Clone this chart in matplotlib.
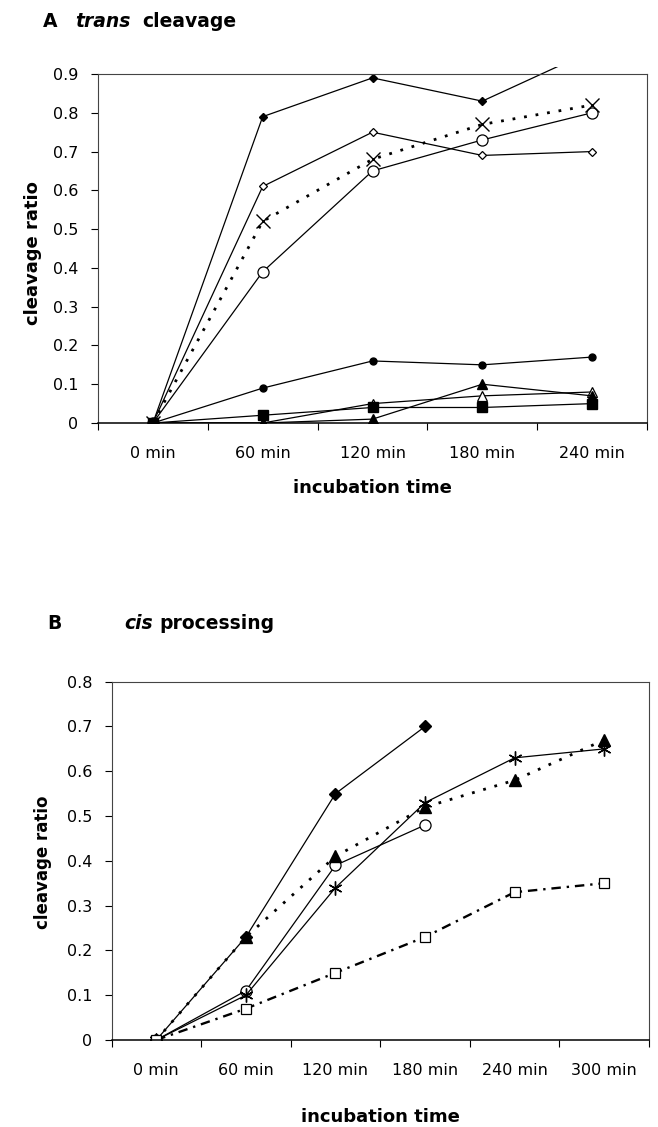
import numpy as np
import matplotlib
matplotlib.use("Agg")
import matplotlib.pyplot as plt
from matplotlib.transforms import Bbox, TransformedBbox

plt.rcParams['font.family'] = ['DejaVu Sans']

# A: trans cleavage
times_a = ['0 min', '60 min', '120 min', '180 min', '240 min']
a_filled_diamond = [0, 0.79, 0.89, 0.83, 0.96]
a_open_diamond = [0, 0.61, 0.75, 0.69, 0.70]
a_cross = [0, 0.52, 0.68, 0.77, 0.82]
a_open_circle = [0, 0.39, 0.65, 0.73, 0.80]
a_filled_circle = [0, 0.09, 0.16, 0.15, 0.17]
a_open_triangle = [0, 0, 0.05, 0.07, 0.08]
a_filled_triangle = [0, 0, 0.01, 0.10, 0.07]
a_filled_square = [0, 0.02, 0.04, 0.04, 0.05]

# B: cis processing
times_b = ['0 min', '60 min', '120 min', '180 min', '240 min', '300 min']
b_filled_diamond = [0, 0.23, 0.55, 0.70]
b_asterisk = [0, 0.10, 0.34, 0.53, 0.63, 0.65]
b_filled_triangle = [0, 0.23, 0.41, 0.52, 0.58, 0.67]
b_open_circle = [0, 0.11, 0.39, 0.48]
b_open_square = [0, 0.07, 0.15, 0.23, 0.33, 0.35]

W, H = 658, 1127
fig = plt.figure(figsize=(W / 100, H / 100), dpi=100)


def px_axes(l, t, r, b):
    return fig.add_axes([l / W, 1 - b / H, (r - l) / W, (b - t) / H])


def style_axes(ax, cats, ymax):
    n = len(cats)
    ax.set_xlim(-0.5, n - 0.5)
    ax.set_ylim(0, ymax)
    ax.set_yticks(np.arange(0, ymax + 0.001, 0.1))
    ax.set_yticklabels(['0'] + ['%.1f' % v for v in np.arange(0.1, ymax + 0.001, 0.1)])
    ax.set_xticks(np.arange(-0.5, n, 1.0))
    ax.set_xticklabels([])
    ax.set_xticks(np.arange(n), minor=True)
    ax.set_xticklabels(cats, minor=True)
    ax.tick_params(axis='x', which='major', direction='out', length=5, width=0.8)
    ax.tick_params(axis='x', which='minor', length=0, pad=16.5, labelsize=11.5)
    ax.tick_params(axis='y', direction='out', length=5, width=0.8, pad=9, labelsize=11.5)
    for s in ax.spines.values():
        s.set_color('#444444')
        s.set_linewidth(0.8)
    ax.spines['bottom'].set_color('black')
    ax.spines['bottom'].set_linewidth(1.1)


solid = dict(color='black', lw=0.9)
dotted = dict(color='black', lw=2.0, linestyle=(0, (1, 3.2)))

# ---- panel A ----
ax1 = px_axes(98, 74, 647, 423)
style_axes(ax1, times_a, 0.9)
xa = np.arange(len(times_a))

l1, = ax1.plot(xa, a_filled_diamond, marker='D', ms=4, mfc='black', mec='black', **solid)
l1.set_clip_box(TransformedBbox(Bbox([[0, 0], [1, 1.02]]), ax1.transAxes))
ax1.plot(xa, a_open_diamond, marker='D', ms=4, mfc='white', mec='black', mew=0.9, **solid)
ax1.plot(xa, a_open_circle, marker='o', ms=8, mfc='white', mec='black', mew=0.9, **solid)
ax1.plot(xa, a_cross, marker='x', ms=10, mec='black', mew=1.0, **dotted)
ax1.plot(xa, a_filled_circle, marker='o', ms=5, mfc='black', mec='black', **solid)
ax1.plot(xa, a_open_triangle, marker='^', ms=7, mfc='white', mec='black', mew=0.9, **solid)
ax1.plot(xa, a_filled_triangle, marker='^', ms=7, mfc='black', mec='black', **solid)
ax1.plot(xa, a_filled_square, marker='s', ms=7, mfc='black', mec='black', **solid)

fig.text(43 / W, 1 - 27 / H, 'A', fontsize=13.5, fontweight='bold', va='baseline')
fig.text(75 / W, 1 - 27 / H, 'trans', fontsize=13.5, fontweight='bold', style='italic', va='baseline')
fig.text(142 / W, 1 - 27 / H, 'cleavage', fontsize=13.5, fontweight='bold', va='baseline')
fig.text(33 / W, 1 - 253 / H, 'cleavage ratio', fontsize=13, fontweight='bold',
         rotation=90, ha='center', va='center')
fig.text(372 / W, 1 - 488 / H, 'incubation time', fontsize=13, fontweight='bold',
         ha='center', va='center')

# ---- panel B ----
ax2 = px_axes(111.5, 681.7, 649, 1040)
style_axes(ax2, times_b, 0.8)
xb = np.arange(len(times_b))

ax2.plot(xb[:len(b_filled_diamond)], b_filled_diamond, marker='D', ms=6, mfc='black', mec='black', **solid)
ax2.plot(xb[:len(b_open_circle)], b_open_circle, marker='o', ms=8, mfc='white', mec='black', mew=0.9, **solid)
ax2.plot(xb, b_asterisk, marker=(6, 2, 0), ms=10, mec='black', mew=1.0, **solid)
ax2.plot(xb, b_filled_triangle, marker='^', ms=8, mfc='black', mec='black', **dotted)
ax2.plot(xb, b_open_square, marker='s', ms=7, mfc='white', mec='black', mew=0.9,
         color='black', lw=1.7, linestyle=(0, (4, 2.5, 1, 2.5)))

fig.text(47 / W, 1 - 629 / H, 'B', fontsize=13.5, fontweight='bold', va='baseline')
fig.text(124 / W, 1 - 629 / H, 'cis', fontsize=13.5, fontweight='bold', style='italic', va='baseline')
fig.text(159 / W, 1 - 629 / H, 'processing', fontsize=13.5, fontweight='bold', va='baseline')
fig.text(43 / W, 1 - 862 / H, 'cleavage ratio', fontsize=12, fontweight='bold',
         rotation=90, ha='center', va='center')
fig.text(380 / W, 1 - 1117 / H, 'incubation time', fontsize=13, fontweight='bold',
         ha='center', va='center')

fig.savefig('out.png', dpi=100)
